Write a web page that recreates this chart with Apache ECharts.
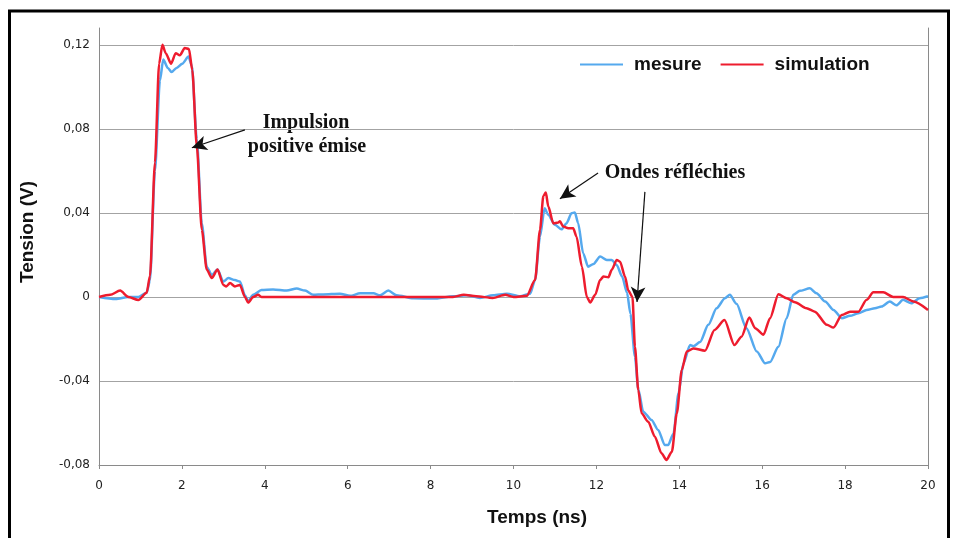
<!DOCTYPE html>
<html>
<head>
<meta charset="utf-8">
<script src="https://cdn.jsdelivr.net/npm/echarts@6/dist/echarts.min.js"></script>
<style>
  html, body { margin: 0; padding: 0; background: #fff; }
  #main { width: 958px; height: 538px; }
</style>
</head>
<body>
<div id="main"></div>
<script>
// temps (ns) / tension (V)
var mesureT = [0, 0.4, 0.71, 0.95, 1.15, 1.23, 1.35, 1.47, 1.55, 1.66, 1.75, 1.87, 2.01, 2.16, 2.24, 2.36, 2.48, 2.6, 2.72, 2.86,
    3.0, 3.12, 3.28, 3.4, 3.52, 3.6, 3.72, 3.92, 4.2, 4.53, 4.77, 4.97, 5.17, 5.41, 5.81, 6.06, 6.3, 6.62, 6.78, 6.98,
    7.18, 7.58, 8.07, 8.55, 8.87, 9.19, 9.51, 9.84, 10.16, 10.4, 10.52, 10.64, 10.75, 10.84, 11.0, 11.16, 11.28, 11.4, 11.48, 11.56,
    11.68, 11.8, 11.93, 12.09, 12.25, 12.37, 12.49, 12.62, 12.74, 12.82, 12.93, 13.01, 13.13, 13.33, 13.49, 13.65, 13.73, 13.86, 13.98, 14.1,
    14.26, 14.34, 14.5, 14.7, 14.9, 15.1, 15.22, 15.38, 15.62, 15.87, 16.07, 16.19, 16.39, 16.59, 16.75, 16.91, 17.15, 17.31, 17.52, 17.72,
    17.92, 18.12, 18.32, 18.52, 18.72, 18.88, 19.08, 19.24, 19.4, 19.6, 19.8, 20];
var mesureV = [0, -0.001, 0, 0, 0.002, 0.008, 0.06, 0.103, 0.113, 0.109, 0.107, 0.109, 0.111, 0.1144, 0.11, 0.075, 0.035, 0.0143, 0.0105, 0.013,
    0.0073, 0.009, 0.008, 0.0073, 0.0008, -0.002, 0.001, 0.0033, 0.0035, 0.003, 0.004, 0.003, 0.001, 0.0012, 0.0015, 0.0005, 0.0017, 0.0017, 0.0008, 0.003,
    0.0008, -0.0006, -0.0008, 0.0003, 0.0008, -0.0005, 0.0008, 0.0015, 0.0003, 0.0015, 0.008, 0.0287, 0.0422, 0.039, 0.0343, 0.0322, 0.0351, 0.0398, 0.0402, 0.0351,
    0.0208, 0.0144, 0.0157, 0.0192, 0.0176, 0.0176, 0.0152, 0.0097, 0.002, -0.008, -0.0284, -0.044, -0.0546, -0.0586, -0.0633, -0.0705, -0.0705, -0.065, -0.0459, -0.0316,
    -0.0229, -0.0235, -0.0215, -0.0133, -0.0054, -0.0006, 0.001, -0.0033, -0.0149, -0.026, -0.0316, -0.031, -0.0237, -0.0101, 0.001, 0.0029, 0.0041, 0.0017, -0.0022, -0.0062,
    -0.0101, -0.009, -0.0078, -0.0062, -0.0054, -0.0046, -0.0022, -0.004, -0.0014, -0.003, -0.0006, 0.0003];

var simT = [0, 0.27, 0.51, 0.71, 0.95, 1.15, 1.23, 1.35, 1.45, 1.53, 1.61, 1.74, 1.85, 1.95, 2.07, 2.17, 2.25, 2.36, 2.48, 2.6,
    2.72, 2.86, 3.0, 3.07, 3.16, 3.28, 3.4, 3.52, 3.6, 3.72, 3.84, 3.92, 8.54, 8.8, 9.1, 9.5, 9.8, 10.0, 10.32, 10.52,
    10.64, 10.72, 10.78, 10.84, 10.96, 11.08, 11.12, 11.2, 11.32, 11.44, 11.52, 11.65, 11.77, 11.85, 11.97, 12.09, 12.17, 12.29, 12.37, 12.49,
    12.57, 12.69, 12.77, 12.87, 12.93, 13.01, 13.09, 13.25, 13.41, 13.57, 13.69, 13.82, 13.94, 14.06, 14.18, 14.34, 14.62, 14.85, 15.09, 15.33,
    15.5, 15.69, 15.83, 16.03, 16.19, 16.39, 16.59, 16.79, 17.07, 17.27, 17.56, 17.72, 17.92, 18.12, 18.32, 18.52, 18.68, 18.92, 19.16, 19.4,
    19.65, 20];
var simV = [0, 0.001, 0.003, 0, -0.0015, 0.002, 0.01, 0.064, 0.111, 0.12, 0.116, 0.111, 0.116, 0.115, 0.1185, 0.118, 0.108, 0.0716, 0.032, 0.013,
    0.009, 0.013, 0.0057, 0.005, 0.0066, 0.005, 0.0057, 0, -0.0027, 0, 0.001, 0, 0, 0.001, 0.0003, -0.0005, 0.001, 0, 0.0005, 0.008,
    0.032, 0.048, 0.0497, 0.043, 0.035, 0.0354, 0.036, 0.0335, 0.0327, 0.0327, 0.0287, 0.0144, 0, -0.0027, 0.001, 0.008, 0.0097, 0.0094, 0.0129, 0.0176,
    0.0168, 0.0097, 0.003, 0, -0.0237, -0.0443, -0.0554, -0.0594, -0.0665, -0.0744, -0.0776, -0.0737, -0.0554, -0.0348, -0.026, -0.0245, -0.0256, -0.0157, -0.011, -0.0229,
    -0.0189, -0.0098, -0.0149, -0.018, -0.0101, 0.0013, -0.0006, -0.0025, -0.0054, -0.007, -0.0133, -0.0146, -0.0086, -0.007, -0.007, -0.0014, 0.0022, 0.0022, 0, 0,
    -0.0022, -0.0062];

var yTicks = [-0.08, -0.04, 0, 0.04, 0.08, 0.12];

function paires(t, v) {
    var out = [];
    for (var i = 0; i < t.length; i++) {
        out.push([t[i], v[i]]);
    }
    return out;
}

function etiquetteY(val) {
    for (var i = 0; i < yTicks.length; i++) {
        if (Math.abs(val - yTicks[i]) < 1e-6) {
            if (yTicks[i] === 0) return '0';
            return yTicks[i].toFixed(2).replace('.', ',');
        }
    }
    return '';
}

var myChart = echarts.init(document.getElementById('main'));

var fleche = {
    silent: true,
    symbol: ['none', 'arrow'],
    symbolSize: [11, 15],
    label: { show: false },
    lineStyle: { color: '#111', width: 1.2, type: 'solid' },
    emphasis: { disabled: true },
    data: [
        [{ coord: [3.52, 0.0795] }, { coord: [2.24, 0.071] }],
        [{ coord: [12.04, 0.059] }, { coord: [11.12, 0.0467] }],
        [{ coord: [13.17, 0.05] }, { coord: [12.98, -0.0024] }]
    ]
};

var option = {
    backgroundColor: '#ffffff',
    animation: false,
    grid: { left: 99, right: 30, top: 28, bottom: 73 },
    legend: {
        left: 575,
        top: 50,
        itemWidth: 43,
        itemHeight: 12,
        itemGap: 19,
        icon: 'path://M0,5 L43,5 L43,7 L0,7 Z',
        textStyle: { fontFamily: 'Liberation Sans', fontWeight: 'bold', fontSize: 19, color: '#111', padding: [0, 0, 0, 6] },
        data: ['mesure', 'simulation']
    },
    xAxis: {
        type: 'value',
        min: 0,
        max: 20,
        interval: 2,
        axisLine: { onZero: false, lineStyle: { color: '#8a8a8a', width: 1 } },
        axisTick: { show: true, length: 4, lineStyle: { color: '#8a8a8a' } },
        axisLabel: { fontFamily: 'DejaVu Sans', fontSize: 12, color: '#222', margin: 15 },
        splitLine: { show: false }
    },
    yAxis: [{
        type: 'value',
        min: -0.08,
        max: 0.128,
        interval: 0.04,
        axisLine: { show: true, lineStyle: { color: '#8a8a8a', width: 1 } },
        axisTick: { show: false },
        axisLabel: { fontFamily: 'DejaVu Sans', fontSize: 12, color: '#222', margin: 9, formatter: etiquetteY },
        splitLine: { show: true, showMaxLine: false, lineStyle: { color: '#a3a3a3', width: 1 } }
    }, {
        type: 'value',
        position: 'right',
        min: -0.08,
        max: 0.128,
        axisLine: { show: true, lineStyle: { color: '#8a8a8a', width: 1 } },
        axisTick: { show: false },
        axisLabel: { show: false },
        splitLine: { show: false }
    }],
    graphic: [
        { type: 'rect', shape: { x: 9.5, y: 11, width: 939, height: 560 }, style: { fill: 'none', stroke: '#000', lineWidth: 3 }, silent: true },
        { type: 'text', x: 28, y: 232, rotation: Math.PI / 2, style: { text: 'Tension (V)', fontFamily: 'Liberation Sans', fontWeight: 'bold', fontSize: 19, fill: '#111', align: 'center', verticalAlign: 'middle' } },
        { type: 'text', x: 537, y: 518, style: { text: 'Temps (ns)', fontFamily: 'Liberation Sans', fontWeight: 'bold', fontSize: 19, fill: '#111', align: 'center', verticalAlign: 'middle' } },
        { type: 'text', x: 306, y: 123, style: { text: 'Impulsion', fontFamily: 'Liberation Serif', fontWeight: 'bold', fontSize: 20, fill: '#111', align: 'center', verticalAlign: 'middle' } },
        { type: 'text', x: 307, y: 147, style: { text: 'positive émise', fontFamily: 'Liberation Serif', fontWeight: 'bold', fontSize: 20, fill: '#111', align: 'center', verticalAlign: 'middle' } },
        { type: 'text', x: 675, y: 173, style: { text: 'Ondes réfléchies', fontFamily: 'Liberation Serif', fontWeight: 'bold', fontSize: 20, fill: '#111', align: 'center', verticalAlign: 'middle' } }
    ],
    series: [{
        name: 'mesure',
        type: 'line',
        data: paires(mesureT, mesureV),
        showSymbol: false,
        smooth: 0.25,
        smoothMonotone: 'x',
        itemStyle: { color: '#55a9ee' },
        lineStyle: { color: '#55a9ee', width: 2.5 }
    }, {
        name: 'simulation',
        type: 'line',
        data: paires(simT, simV),
        showSymbol: false,
        smooth: 0.25,
        smoothMonotone: 'x',
        itemStyle: { color: '#ee1c2e' },
        lineStyle: { color: '#ee1c2e', width: 2.5 },
        markLine: fleche
    }]
};

myChart.setOption(option);
</script>
</body>
</html>
